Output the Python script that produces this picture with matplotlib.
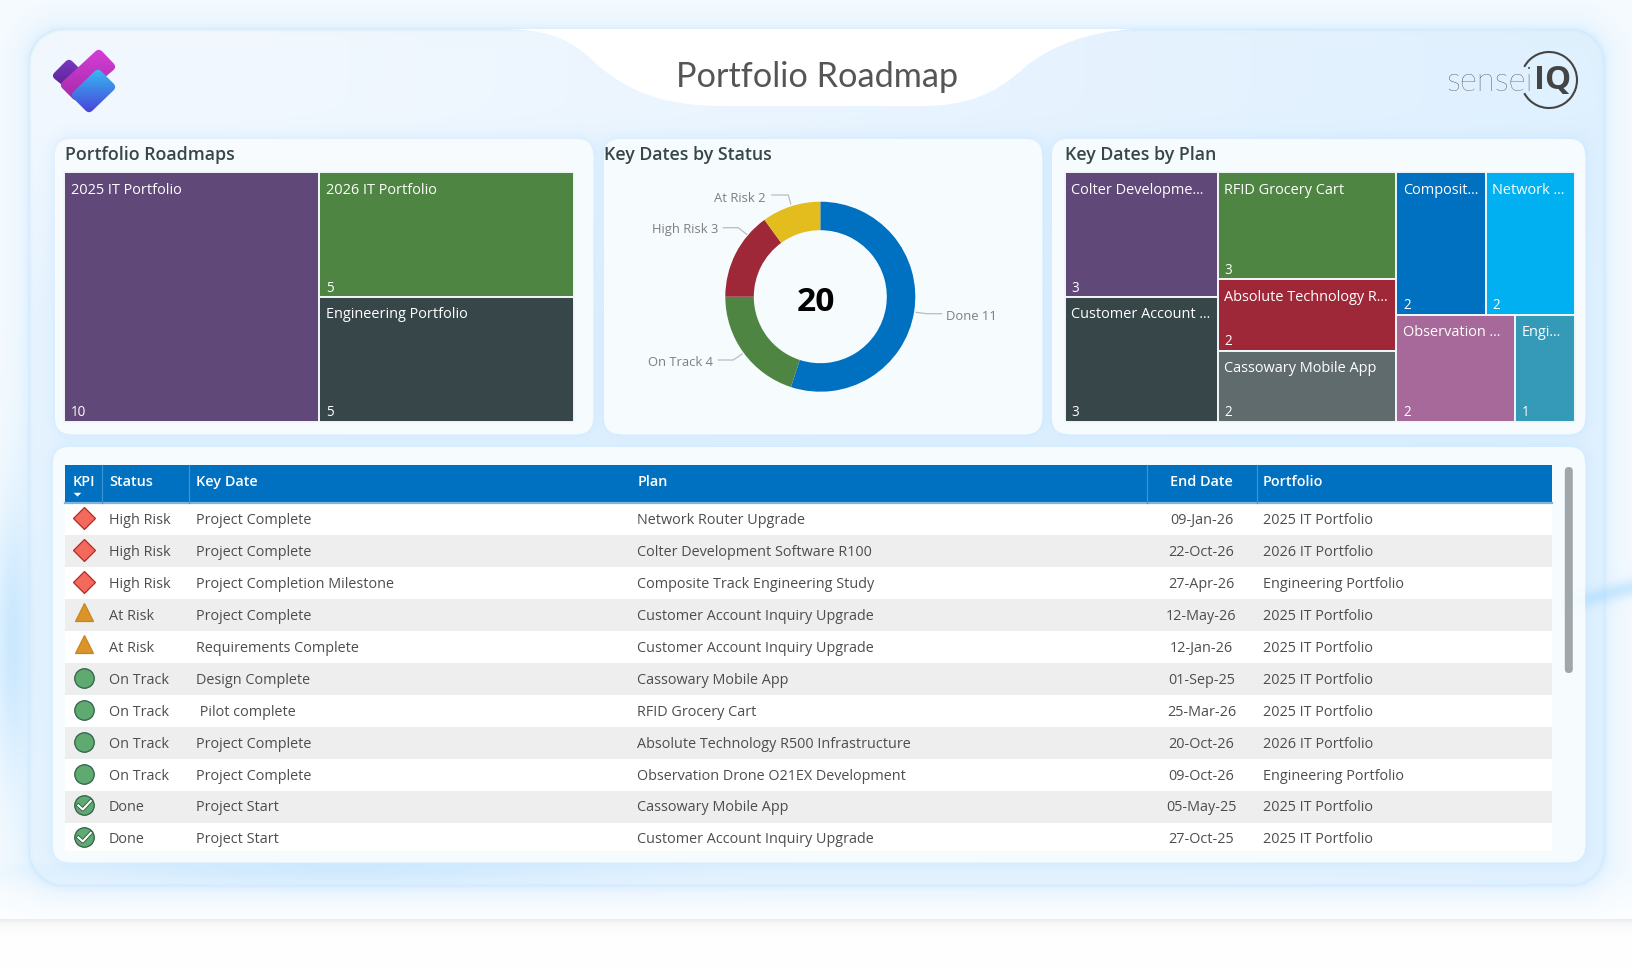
import numpy as np
import matplotlib
matplotlib.use("Agg")
import matplotlib.pyplot as plt
from matplotlib.patches import Rectangle, FancyBboxPatch, PathPatch, Arc
from matplotlib.path import Path

W, H = 1633, 967
BODY = ["Open Sans", "Noto Sans", "DejaVu Sans"]
plt.rcParams["font.family"] = BODY

# ---- data ----
portfolio_names = ["2025 IT Portfolio", "2026 IT Portfolio", "Engineering Portfolio"]
portfolio_values = [10, 5, 5]
portfolio_colors = ["#604878", "#4F8543", "#374649"]
portfolio_layout = [[[0]], [[1], [2]]]  # column > row > cell

status_names = ["Done", "On Track", "High Risk", "At Risk"]
status_values = [11, 4, 3, 2]
status_colors = ["#0070C0", "#4F8543", "#9E2837", "#E3BC1E"]
total_dates = 20

plan_names = ["Colter Developme...", "Customer Account ...", "RFID Grocery Cart",
              "Absolute Technology R...", "Cassowary Mobile App", "Composit...",
              "Network ...", "Observation ...", "Engi..."]
plan_values = [3, 3, 3, 2, 2, 2, 2, 2, 1]
plan_colors = ["#604878", "#374649", "#4F8543", "#9E2837", "#5F6B6D",
               "#0070C0", "#00B0F0", "#A66999", "#3599B8"]
plan_layout = [[[0], [1]], [[2], [3], [4]], [[5, 6], [7, 8]]]

table_columns = ["KPI", "Status", "Key Date", "Plan", "End Date", "Portfolio"]
row_status = ["High Risk", "High Risk", "High Risk", "At Risk", "At Risk", "On Track",
              "On Track", "On Track", "On Track", "Done", "Done"]
row_key_date = ["Project Complete", "Project Complete", "Project Completion Milestone",
                "Project Complete", "Requirements Complete", "Design Complete",
                " Pilot complete", "Project Complete", "Project Complete",
                "Project Start", "Project Start"]
row_plan = ["Network Router Upgrade", "Colter Development Software R100",
            "Composite Track Engineering Study", "Customer Account Inquiry Upgrade",
            "Customer Account Inquiry Upgrade", "Cassowary Mobile App", "RFID Grocery Cart",
            "Absolute Technology R500 Infrastructure", "Observation Drone O21EX Development",
            "Cassowary Mobile App", "Customer Account Inquiry Upgrade"]
row_end_date = ["09-Jan-26", "22-Oct-26", "27-Apr-26", "12-May-26", "12-Jan-26", "01-Sep-25",
                "25-Mar-26", "20-Oct-26", "09-Oct-26", "05-May-25", "27-Oct-25"]
row_portfolio = ["2025 IT Portfolio", "2026 IT Portfolio", "Engineering Portfolio",
                 "2025 IT Portfolio", "2025 IT Portfolio", "2025 IT Portfolio",
                 "2025 IT Portfolio", "2026 IT Portfolio", "Engineering Portfolio",
                 "2025 IT Portfolio", "2025 IT Portfolio"]

fig = plt.figure(figsize=(W / 100, H / 100), dpi=100, facecolor="white")
ax = fig.add_axes([0, 0, 1, 1])
ax.set_xlim(0, W)
ax.set_ylim(H, 0)
ax.axis("off")


def px(size):
    return size * 0.72


def label(x, y, s, size, color="white", ha="left", **kw):
    return ax.text(x, y, s, fontsize=px(size), color=color, ha=ha, va="center", **kw)


# ---- background, painted as a soft image ----
def box_dist(xx, yy, x0, y0, x1, y1, r):
    cx, cy = (x0 + x1) / 2, (y0 + y1) / 2
    qx = np.abs(xx - cx) - (x1 - x0) / 2 + r
    qy = np.abs(yy - cy) - (y1 - y0) / 2 + r
    return np.hypot(np.maximum(qx, 0), np.maximum(qy, 0)) + np.minimum(np.maximum(qx, qy), 0) - r


def mix(img, color, amount):
    c = np.array(matplotlib.colors.to_rgb(color))
    return img * (1 - amount[..., None]) + c * amount[..., None]


yy, xx = np.mgrid[0:H, 0:W].astype(float)
bg = np.ones((H, W, 3))
page = (yy < 919).astype(float)
bg = mix(bg, "#F6FBFF", page * (1 - 0.7 * np.clip((yy - 870) / 45, 0, 1)))
bg = mix(bg, "#000000", 0.07 * np.exp(-np.maximum(yy - 919, 0) / 6) * (1 - page))

card_box = (29, 29, 1604, 885, 34)
d = box_dist(xx, yy, *card_box)
bg = mix(bg, "#CFE9FF", 0.55 * np.exp(-np.maximum(d, 0) / 13) * (d > 0) * page)
inside = np.clip(0.5 - d, 0, 1)
card = mix(np.ones((H, W, 3)), "#F2F8FE", np.ones((H, W)))
card = mix(card, "#DFF0FE", np.clip((xx - 200) / 1400, 0, 1))
card = mix(card, "#E3F2FF", np.clip((yy - 120) / 200, 0, 1) * 0.7)
bg = bg * (1 - inside[..., None]) + card * inside[..., None]
bg = mix(bg, "#B9DFFD", 0.45 * np.exp(-np.abs(d) / 1.2))

panels = [(55, 139, 593, 434), (604, 139, 1042, 434), (1052, 139, 1585, 434), (53, 447, 1585, 862)]
for x0, y0, x1, y1 in panels:
    pd = box_dist(xx, yy, x0, y0, x1, y1, 16)
    bg = mix(bg, "#BFE2FF", 0.38 * np.exp(-np.maximum(pd, 0) / 7) * (pd > 0) * (d < 0))

# faint streaks behind the panels
streak1 = np.exp(-((yy - (620 - 0.25 * (xx - 1500))) / 9) ** 2) * (xx > 1560)
bg = mix(bg, "#A9DBFF", 0.55 * streak1)
streak2 = np.exp(-((xx - 12) / 18) ** 2) * np.exp(-((yy - 640) / 130) ** 2)
bg = mix(bg, "#BFE3FF", 0.75 * streak2)
streak3 = np.exp(-((yy - 870) / 14) ** 2) * np.exp(-((xx - 340) / 260) ** 2) * (yy > 862)
bg = mix(bg, "#BCE2FF", 0.5 * streak3)
ax.imshow(bg, extent=(0, W, H, 0), aspect="auto", zorder=0, interpolation="bilinear")
ax.set_xlim(0, W)
ax.set_ylim(H, 0)

# white title swoosh
swoosh = Path(
    [(498, 29),
     (540, 29), (565, 35), (590, 58),
     (625, 92), (665, 106), (723, 106),
     (923, 106),
     (965, 106), (995, 95), (1025, 67),
     (1050, 47), (1085, 32), (1134, 29),
     (498, 29)],
    [Path.MOVETO,
     Path.CURVE4, Path.CURVE4, Path.CURVE4,
     Path.CURVE4, Path.CURVE4, Path.CURVE4,
     Path.LINETO,
     Path.CURVE4, Path.CURVE4, Path.CURVE4,
     Path.CURVE4, Path.CURVE4, Path.CURVE4,
     Path.CLOSEPOLY])
ax.add_patch(PathPatch(swoosh, fc="white", ec="none", zorder=1))

for x0, y0, x1, y1 in panels:
    ax.add_patch(FancyBboxPatch((x0 + 16, y0 + 16), x1 - x0 - 32, y1 - y0 - 32,
                                boxstyle="round,pad=16,rounding_size=16",
                                fc="#F8FCFF", ec="none", alpha=0.92, zorder=1))


# ---- logos ----
def rounded_poly(pts, r):
    verts, codes = [], []
    n = len(pts)
    for i in range(n):
        p = np.array(pts[i], float)
        a = np.array(pts[i - 1], float)
        b = np.array(pts[(i + 1) % n], float)
        p0 = p + (a - p) / np.linalg.norm(a - p) * r
        p1 = p + (b - p) / np.linalg.norm(b - p) * r
        verts += [p0, p, p1]
        codes += [Path.MOVETO if i == 0 else Path.LINETO, Path.CURVE3, Path.CURVE3]
    verts.append(verts[0])
    codes.append(Path.CLOSEPOLY)
    return Path(verts, codes)


def gradient_poly(pts, c0, c1, r=5, z=2):
    patch = PathPatch(rounded_poly(pts, r), fc="none", ec="none", zorder=z)
    ax.add_patch(patch)
    xs, ys = zip(*pts)
    g = np.linspace(0, 1, 64)[:, None, None]
    rgb = (1 - g) * np.array(matplotlib.colors.to_rgb(c0)) + g * np.array(matplotlib.colors.to_rgb(c1))
    im = ax.imshow(rgb, extent=(min(xs), max(xs), max(ys), min(ys)), aspect="auto", zorder=z)
    im.set_clip_path(patch)


gradient_poly([(69, 58), (86, 75), (72, 93), (51, 76)], "#7B38C4", "#54208A", 5, 2)
gradient_poly([(99, 48), (117, 67), (76, 102), (59, 85)], "#D63FD6", "#A22AA8", 5, 3)
gradient_poly([(98, 68), (117, 87), (89, 114), (70, 95)], "#36BDF5", "#4A3FD8", 5, 4)
ax.set_xlim(0, W)
ax.set_ylim(H, 0)

label(1446, 82, "sensei", 33, color="#2A2A2A", family=["Lato", "Open Sans"], fontweight="light", zorder=3)
label(1534, 81, "IQ", 33, color="#444444", family=["Open Sans"], fontweight="bold", zorder=3)
ax.add_patch(Arc((1549, 80), 56, 56, theta1=-152, theta2=152, color="#444444", lw=1.5, zorder=3))

label(817.5, 77, "Portfolio Roadmap", 34.3, color="#555555", ha="center",
      family=["Lato", "Open Sans"], zorder=3)

# ---- panel titles ----
TITLE = "#374649"
label(65, 155, "Portfolio Roadmaps", 17.7, color=TITLE, fontweight="semibold", zorder=3)
label(604, 155, "Key Dates by Status", 17.7, color=TITLE, fontweight="semibold", zorder=3)
label(1065, 155, "Key Dates by Plan", 17.7, color=TITLE, fontweight="semibold", zorder=3)


# ---- treemaps ----
def treemap(layout, names, values, colors, box):
    x0, y0, x1, y1 = box
    total = sum(values)
    x = x0
    for column in layout:
        col_sum = sum(values[i] for row in column for i in row)
        col_w = (x1 - x0) * col_sum / total
        y = y0
        for row in column:
            row_sum = sum(values[i] for i in row)
            row_h = (y1 - y0) * row_sum / col_sum
            cx = x
            for i in row:
                cell_w = col_w * values[i] / row_sum
                ax.add_patch(Rectangle((cx, y), cell_w, row_h, fc=colors[i],
                                       ec="#F2F6F9", lw=1.4, zorder=2))
                label(cx + 6.5, y + 18, names[i], 14.5, zorder=3)
                label(cx + 6.5, y + row_h - 9, str(values[i]), 13.5, zorder=3)
                cx += cell_w
            y += row_h
        x += col_w


treemap(portfolio_layout, portfolio_names, portfolio_values, portfolio_colors, (64.5, 172, 574.5, 422))
treemap(plan_layout, plan_names, plan_values, plan_colors, (1065, 172, 1575, 422))

# ---- donut ----
cx, cy, R = 820.3, 296.7, 95
donut = fig.add_axes([(cx - R) / W, 1 - (cy + R) / H, 2 * R / W, 2 * R / H])
donut.patch.set_alpha(0)
donut.pie(status_values, colors=status_colors, startangle=90, counterclock=False, radius=1,
          wedgeprops={"width": 0.30, "linewidth": 0})
donut.set_xlim(-1, 1)
donut.set_ylim(-1, 1)
donut.set_position([(cx - R) / W, 1 - (cy + R) / H, 2 * R / W, 2 * R / H])

LEAD = "#B8BDC0"
leaders = {
    "At Risk": ([771.7, 788.3, 790.7], [195, 195, 204], 766, 199, "right"),
    "High Risk": ([723.3, 738.3, 746.7], [227.7, 227.7, 234.3], 718.5, 230, "right"),
    "On Track": ([718.3, 733.3, 742], [360, 360, 354], 713.5, 363, "right"),
    "Done": ([916, 926.7, 941.7], [312.3, 313.7, 313.7], 946.5, 317, "left"),
}
for name, val in zip(status_names, status_values):
    lx, ly, tx, ty, ha = leaders[name]
    ax.plot(lx, ly, color=LEAD, lw=0.9, zorder=3)
    label(tx, ty, f"{name} {val}", 13, color="#7F7F7F", ha=ha, zorder=3)
label(816, 302.5, str(total_dates), 33.5, color="black", ha="center", fontweight="bold", zorder=3)

# ---- table ----
left, right = 65.3, 1551.6
head_top, head_bot = 465.3, 503.3
row_h, clip_bot = 31.95, 851
sep_x = [102.3, 189.3, 1147.3, 1257.5]
ax.add_patch(Rectangle((left, head_top), right - left, head_bot - head_top, fc="#0070C0", ec="none", zorder=2))
ax.plot([left, right], [head_bot, head_bot], color="#7FB4DC", lw=1.6, zorder=3)
for sx in sep_x:
    ax.plot([sx, sx], [head_top, head_bot], color="#3E93D0", lw=0.9, zorder=3)

status_style = {
    "High Risk": ("D", 15, "#F4695E", "#B52A20"),
    "At Risk": ("^", 18, "#DA9429", "#C9851C"),
    "On Track": ("o", 19.5, "#5EAA70", "#30604A"),
    "Done": ("o", 19.5, "#5EAA70", "#30604A"),
}
for i, status in enumerate(row_status):
    top = head_bot + i * row_h
    bot = min(top + row_h, clip_bot)
    ax.add_patch(Rectangle((left, top), right - left, bot - top,
                           fc="#EEEEEE" if i % 2 else "white", ec="none", zorder=2))
    y = top + 15.6
    marker, size, fc, ec = status_style[status]
    ax.plot([84.3], [y - (1 if marker != "^" else 3)], marker=marker, ms=px(size), mfc=fc, mec=ec, mew=0.9, zorder=3)
    if status == "Done":
        ax.plot([84.3 - 6, 84.3 - 1.5, 84.3 + 6.5], [y - 1, y + 3, y - 5.5], color="#30604A", lw=2.8, zorder=4)
        ax.plot([84.3 - 6, 84.3 - 1.5, 84.3 + 6.5], [y - 1, y + 3, y - 5.5], color="white", lw=1.5, zorder=4)
    label(109, y + 1.5, status, 14.4, color="#4D4D4D", zorder=3)
    label(196.3, y + 1.5, row_key_date[i], 14.4, color="#4D4D4D", zorder=3)
    label(637.4, y + 1.5, row_plan[i], 14.4, color="#4D4D4D", zorder=3)
    label(1201.5, y + 1.5, row_end_date[i], 14.4, color="#4D4D4D", ha="center", zorder=3)
    label(1263, y + 1.5, row_portfolio[i], 14.4, color="#4D4D4D", zorder=3)

head_y = 482
for x, name, ha in zip([72.5, 109, 196.3, 637.4, 1201.5, 1263], table_columns,
                       ["left", "left", "left", "left", "center", "left"]):
    label(x, head_y, name, 14.4, ha=ha, fontweight="semibold", zorder=4)
sort_arrow = Path([(-1, 0.45), (1, 0.45), (0, -0.55), (-1, 0.45)])
ax.plot([77.3], [494], marker=sort_arrow, ms=5.5, mfc="white", mec="white", mew=0, zorder=4)

ax.add_patch(FancyBboxPatch((1564.8, 467), 8, 206, boxstyle="round,pad=0,rounding_size=4",
                            fc="#A0A7AB", ec="none", zorder=3))

fig.savefig("out.png", dpi=100)
